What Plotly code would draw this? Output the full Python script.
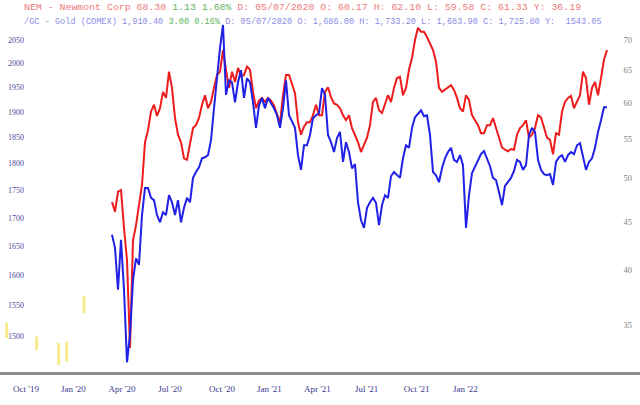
import pandas as pd
import plotly.graph_objects as go

# ---- data ----
gold_close = [
    1670, 1647, 1576, 1661, 1576, 1460, 1503, 1592, 1629, 1618,
    1705, 1754, 1754, 1736, 1732, 1705, 1692, 1710, 1705, 1741,
    1728, 1705, 1732, 1692, 1718, 1736, 1728, 1773, 1784, 1793,
    1810, 1812, 1816, 1845, 1908, 1976, 2033, 2083, 1935, 1965,
    1961, 1920, 1961, 1986, 1929, 1969, 1961, 1920, 1869, 1914,
    1929, 1908, 1929, 1918, 1908, 1894, 1869, 1908, 1965, 1894,
    1880, 1869, 1816, 1788, 1835, 1835, 1855, 1888, 1894, 1898,
    1949, 1935, 1855, 1841, 1822, 1849, 1861, 1803, 1841, 1822,
    1791, 1799, 1728, 1696, 1682, 1718, 1728, 1736, 1727, 1687,
    1723, 1741, 1736, 1776, 1784, 1778, 1773, 1810, 1835, 1830,
    1869, 1890, 1898, 1904, 1892, 1894, 1855, 1784, 1778, 1765,
    1791, 1810, 1822, 1830, 1807, 1803, 1816, 1797, 1682, 1741,
    1782, 1793, 1807, 1818, 1824, 1810, 1795, 1773, 1769, 1747,
    1723, 1758, 1765, 1773, 1786, 1807, 1803, 1788, 1797, 1855,
    1869, 1861, 1807, 1788, 1780, 1778, 1780, 1760, 1803, 1812,
    1816, 1803, 1816, 1822, 1818, 1835, 1839, 1816, 1788, 1803,
    1810, 1830, 1861, 1884, 1910, 1910,
]

nem_close = [
    47.2, 46.1, 48.4, 48.6, 44.3, 41.0, 33.1, 43.0, 44.6, 46.9,
    49.2, 54.6, 56.2, 58.8, 59.8, 58.2, 59.3, 61.7, 60.8, 64.8,
    62.3, 57.9, 55.6, 54.6, 52.5, 52.3, 54.4, 56.5, 56.9, 57.9,
    59.8, 61.2, 59.3, 60.2, 62.3, 64.3, 64.8, 68.3, 65.1, 62.3,
    64.8, 63.2, 65.4, 64.1, 64.3, 65.6, 65.1, 61.7, 59.3, 60.4,
    60.8, 60.2, 60.8, 60.4, 59.7, 58.3, 57.2, 61.2, 64.3, 64.3,
    62.7, 61.5, 57.3, 55.6, 56.7, 57.3, 57.3, 58.3, 59.8, 58.3,
    58.3, 61.7, 62.4, 60.9, 60.0, 59.8, 59.3, 58.3, 57.6, 58.3,
    56.5, 55.6, 54.6, 53.3, 54.2, 55.2, 56.9, 60.2, 60.8, 59.0,
    58.6, 59.8, 61.2, 60.2, 62.3, 63.8, 64.0, 61.2, 62.3, 65.1,
    67.0, 70.0, 72.1, 71.4, 71.4, 70.5, 69.5, 68.3, 66.4, 62.3,
    61.7, 62.0, 62.4, 62.7, 62.0, 60.8, 59.3, 58.8, 61.2, 60.5,
    58.3, 57.6, 56.9, 55.8, 55.8, 56.9, 56.9, 57.9, 56.5, 55.2,
    53.9, 53.6, 53.4, 53.7, 53.6, 55.6, 56.5, 56.9, 57.6, 55.2,
    55.6, 56.5, 58.3, 58.0, 56.5, 55.2, 54.9, 53.0, 55.8, 55.6,
    58.8, 60.2, 60.8, 61.1, 59.3, 60.2, 61.2, 64.8, 63.8, 59.8,
    62.3, 63.2, 61.2, 63.8, 66.7, 68.3,
]

# earlier sparse gold bars (yellow)
old_gold_dates = ["2019-09-21", "2019-11-05", "2019-12-08", "2019-12-20", "2020-01-15"]
old_gold_low = [1498, 1479, 1456, 1461, 1538]
old_gold_high = [1522, 1500, 1490, 1492, 1566]

series_start = "2020-02-26"
step = "108h"

x_range = ["2019-09-11", "2022-04-28"]
# label positions as they sit in the reference picture
tick_dates = ["2019-10-20", "2019-12-30", "2020-03-12", "2020-05-23", "2020-08-09",
              "2020-10-19", "2020-12-30", "2021-03-14", "2021-05-28", "2021-08-09"]
tick_text = ["Oct '19", "Jan '20", "Apr '20", "Jul '20", "Oct '20",
             "Jan '21", "Apr '21", "Jul '21", "Oct '21", "Jan '22"]

gold_ticks = [1500, 1550, 1600, 1650, 1700, 1750, 1800, 1850, 1900, 1950, 2000, 2050]
nem_ticks = [35, 40, 45, 50, 55, 60, 65, 70]

header1 = ("NEM - Newmont Corp 68.30 ", "1.13 1.68%",
           " D: 05/07/2020 O: 60.17 H: 62.10 L: 59.58 C: 61.33 Y: 36.19")
header2 = ("/GC - Gold (COMEX) 1,910.40 ", "3.00 0.16%",
           " D: 05/07/2020 O: 1,686.00 H: 1,733.20 L: 1,683.90 C: 1,725.80 Y:  1543.05")

# ---- figure ----
gold_dates = pd.date_range(series_start, periods=len(gold_close), freq=step)
nem_dates = pd.date_range(series_start, periods=len(nem_close), freq=step)

fig = go.Figure()

fig.add_trace(go.Scatter(
    x=nem_dates, y=nem_close, mode="lines", yaxis="y",
    line=dict(color="#ee1c1c", width=2.0), showlegend=False, hoverinfo="skip"))

ox, oy = [], []
for d, lo, hi in zip(old_gold_dates, old_gold_low, old_gold_high):
    ox += [d, d, None]
    oy += [lo, hi, None]
fig.add_trace(go.Scatter(
    x=ox, y=oy, mode="lines", yaxis="y2",
    line=dict(color="#f7ea8a", width=3), showlegend=False, hoverinfo="skip"))

fig.add_trace(go.Scatter(
    x=gold_dates, y=gold_close, mode="lines", yaxis="y2",
    line=dict(color="#2020e6", width=2.0), showlegend=False, hoverinfo="skip"))

def header_html(parts, main_col, green="#62b462"):
    a, b, c = parts
    return (f"<span style='color:{main_col}'>{a}</span>"
            f"<span style='color:{green}'>{b}</span>"
            f"<span style='color:{main_col}'>{c}</span>")

fig.add_annotation(
    xref="paper", yref="paper", x=22 / 640, y=(372 - 8) / 372,
    xanchor="left", yanchor="middle", showarrow=False,
    text=header_html(header1, "#ec7a7a"),
    font=dict(family="Liberation Mono", size=9.9))
fig.add_annotation(
    xref="paper", yref="paper", x=22 / 640, y=(372 - 22) / 372,
    xanchor="left", yanchor="middle", showarrow=False,
    text=header_html(header2, "#8c8ce6"),
    font=dict(family="Liberation Mono", size=8.6))

fig.update_layout(
    width=640, height=405,
    margin=dict(l=0, r=0, t=0, b=33),
    paper_bgcolor="white", plot_bgcolor="white",
    xaxis=dict(
        type="date", range=x_range, tickvals=tick_dates, ticktext=tick_text,
        showgrid=False, zeroline=False, showline=True, linecolor="#8c8c8c",
        linewidth=3, ticks="", ticklabelstandoff=6,
        tickfont=dict(family="Liberation Serif", size=9, color="#3a3a8c")),
    yaxis=dict(
        type="log", range=[1.4945, 1.8873], side="right",
        tickvals=nem_ticks, ticktext=[str(v) for v in nem_ticks],
        ticklabelposition="inside", ticks="", showgrid=False, zeroline=False,
        showline=False, ticklabelstandoff=5,
        tickfont=dict(family="Liberation Serif", size=8.5, color="#808080")),
    yaxis2=dict(
        type="log", range=[3.1599, 3.3301], side="left", overlaying="y",
        tickvals=gold_ticks, ticktext=[str(v) for v in gold_ticks],
        ticklabelposition="inside", ticks="", showgrid=False, zeroline=False,
        showline=False, ticklabelstandoff=5,
        tickfont=dict(family="Liberation Serif", size=8, color="#4a4a96")),
)

fig.write_html("out.html")
